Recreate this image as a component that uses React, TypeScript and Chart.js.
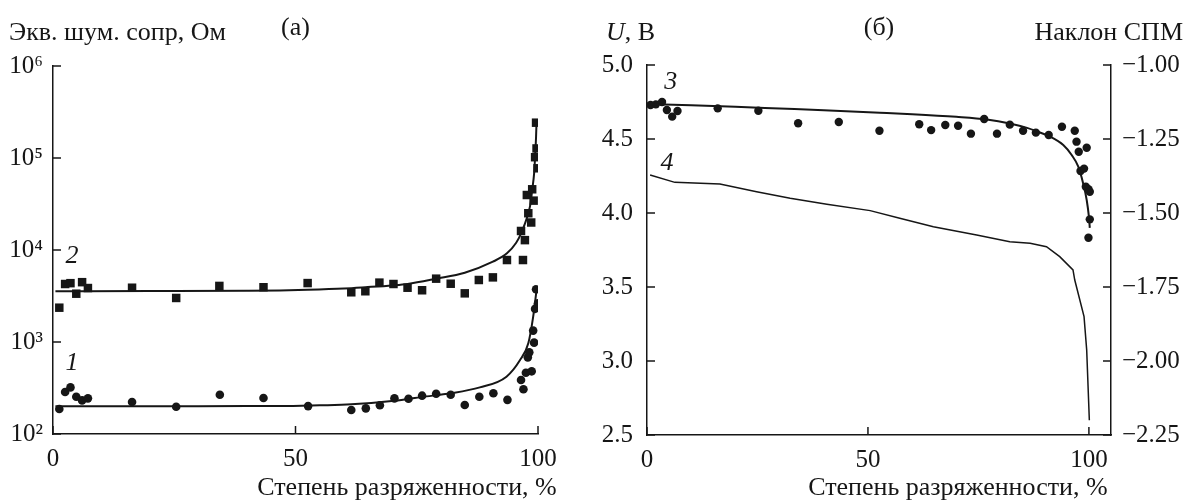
import { useEffect, useRef } from 'react';
import { Chart, registerables } from 'chart.js';

Chart.register(...registerables);

const INK = '#161616';
const SERIF = "'Liberation Serif', 'Times New Roman', serif";
const X_TITLE = 'Степень разряженности, %';

// ---------- Panel (а): equivalent noise resistance, Ohm (log) ----------
const xTicksA = [0, 50, 100];
const yTicksA = [1e2, 1e3, 1e4, 1e5, 1e6];

// series 2 (squares)
const pts2X = [1.3, 2.5, 3.6, 4.8, 6.0, 7.2, 16.3, 25.4, 34.3, 43.4, 52.5, 61.5, 64.4, 67.3, 70.2, 73.1, 76.1, 79.0, 82.0, 84.9, 87.8, 90.7, 93.6, 96.9, 96.5, 97.3, 98.0, 98.6, 97.7, 98.8, 99.1, 99.4, 99.9, 99.7, 99.6];
const pts2Y = [2360, 4270, 4360, 3350, 4470, 3860, 3890, 3010, 4070, 3940, 4370, 3470, 3560, 4420, 4270, 3890, 3650, 4880, 4300, 3380, 4720, 5040, 7780, 7780, 16100, 12800, 25100, 19900, 39600, 45700, 34400, 102000, 77300, 127000, 242000];
// fit curve 2
const fit2X = [0.5, 20, 40, 46.8, 52.5, 60, 64.4, 70, 73.1, 79, 84.9, 90.7, 93.6, 95.5, 96.5, 97.4, 98.0, 98.5, 98.8, 99.2, 99.4, 99.6, 99.7];
const fit2Y = [3560, 3580, 3610, 3640, 3700, 3820, 3940, 4120, 4270, 4870, 5660, 7460, 9200, 12000, 15100, 20000, 25100, 33000, 44900, 68000, 102000, 170000, 250000];

// series 1 (circles)
const pts1X = [1.3, 2.5, 3.6, 4.8, 6.0, 7.2, 16.3, 25.4, 34.4, 43.4, 52.6, 61.5, 64.5, 67.4, 70.4, 73.3, 76.1, 79.0, 82.0, 84.9, 87.9, 90.8, 93.7, 97.0, 96.5, 97.5, 98.7, 97.9, 98.2, 99.2, 99.0, 99.4, 100.0, 99.6];
const pts1Y = [187, 286, 321, 254, 232, 244, 223, 198, 267, 246, 201, 182, 190, 205, 244, 242, 261, 274, 267, 207, 254, 277, 235, 306, 386, 464, 480, 681, 772, 984, 1330, 2290, 2630, 3740];
// fit curve 1
const fit1X = [0.5, 20, 40, 46.8, 55, 61.5, 70.4, 76.1, 82, 88, 93.5, 96.3, 98.0, 99.0, 99.7];
const fit1Y = [200, 200, 201, 201, 205, 210, 230, 253, 277, 321, 420, 637, 968, 1880, 3670];

// ---------- Panel (б): voltage U, V and PSD slope ----------
const xTicksB = [0, 50, 100];
const yTicksB = [2.5, 3.0, 3.5, 4.0, 4.5, 5.0];
const y2TicksB = [-2.25, -2.0, -1.75, -1.5, -1.25, -1.0];

// series 3 (voltage, circles)
const pts3X = [0.8, 2.0, 3.4, 4.5, 5.7, 6.9, 16.0, 25.2, 34.2, 43.4, 52.6, 61.6, 64.3, 67.5, 70.4, 73.3, 76.3, 79.2, 82.1, 85.1, 88.0, 90.9, 93.9, 96.8, 97.2, 97.7, 99.5, 98.1, 98.9, 99.3, 99.9, 100.2, 100.2, 99.9];
const pts3Y = [4.73, 4.734, 4.75, 4.696, 4.651, 4.689, 4.707, 4.691, 4.606, 4.615, 4.556, 4.6, 4.56, 4.595, 4.59, 4.536, 4.635, 4.536, 4.597, 4.556, 4.543, 4.527, 4.583, 4.556, 4.482, 4.414, 4.441, 4.284, 4.3, 4.178, 4.16, 4.144, 3.957, 3.833];
// fit curve 3
const fit3X = [0.8, 10, 20, 30, 40, 52.7, 60, 70, 76.9, 82.1, 86, 88.2, 91.2, 94.2, 96.1, 97.6, 98.7, 99.5, 100.0, 100.2];
const fit3Y = [4.736, 4.728, 4.718, 4.706, 4.694, 4.678, 4.668, 4.65, 4.632, 4.605, 4.575, 4.552, 4.516, 4.459, 4.392, 4.313, 4.2, 4.088, 3.975, 3.9];

// curve 4 (PSD slope, right axis)
const line4X = [0.7, 6.3, 16.5, 24.8, 32.4, 40.7, 50.5, 57.2, 64.8, 74.6, 82.1, 86.7, 90.4, 93.4, 96.4, 96.8, 98.9, 99.5, 100.1];
const line4Y = [-1.3715, -1.3965, -1.402, -1.428, -1.4505, -1.4705, -1.492, -1.518, -1.5465, -1.5745, -1.597, -1.6025, -1.614, -1.6475, -1.6925, -1.7265, -1.85, -1.963, -2.2];

const SUP: Record<number, string> = { 2: '²', 3: '³', 4: '⁴', 5: '⁵', 6: '⁶' };

const zip = (xs: number[], ys: number[]) => xs.map((x, i) => ({ x, y: ys[i] }));

const TICK_FONT = { family: SERIF, size: 25 };
const TICK_FONT_CSS = `25px ${SERIF}`;
const TITLE_FONT = `26px ${SERIF}`;
const ITALIC_FONT = `italic 26px ${SERIF}`;

const inTicks = {
  id: 'inTicks',
  afterDraw(chart: any) {
    const ctx = chart.ctx;
    const a = chart.chartArea;
    ctx.save();
    ctx.strokeStyle = INK;
    ctx.lineWidth = 1.5;
    for (const s of Object.values(chart.scales) as any[]) {
      for (const t of s.ticks) {
        const p = s.getPixelForValue(t.value);
        ctx.beginPath();
        if (s.axis === 'x') {
          ctx.moveTo(p, a.bottom);
          ctx.lineTo(p, a.bottom - 8);
        } else if (s.position === 'left') {
          ctx.moveTo(a.left, p);
          ctx.lineTo(a.left + 8, p);
        } else {
          ctx.moveTo(a.right, p);
          ctx.lineTo(a.right - 8, p);
        }
        ctx.stroke();
      }
    }
    ctx.restore();
  },
};

type Part = { text: string; font: string };
type Item = {
  parts: Part[];
  x?: number;
  y: number;
  align: 'left' | 'center' | 'right';
  baseline?: CanvasTextBaseline;
  xScale?: string;
  yScale?: string;
  centerArea?: boolean;
  afterLabel?: string; // right edge of the x tick label with this value
};

const makeTexts = (items: Item[]) => ({
  id: 'texts',
  afterDraw(chart: any) {
    const ctx = chart.ctx;
    ctx.save();
    ctx.fillStyle = INK;
    for (const it of items) {
      let x = it.x ?? 0;
      let y = it.y;
      if (it.xScale) x = chart.scales[it.xScale].getPixelForValue(it.x);
      if (it.yScale) y = chart.scales[it.yScale].getPixelForValue(it.y);
      if (it.centerArea) x = (chart.chartArea.left + chart.chartArea.right) / 2;
      if (it.afterLabel) {
        ctx.font = TICK_FONT_CSS;
        x = chart.scales.x.getPixelForValue(Number(it.afterLabel)) + ctx.measureText(it.afterLabel).width / 2;
      }
      const widths = it.parts.map((p) => {
        ctx.font = p.font;
        return ctx.measureText(p.text).width;
      });
      const total = widths.reduce((s, w) => s + w, 0);
      let cx = it.align === 'left' ? x : it.align === 'center' ? x - total / 2 : x - total;
      ctx.textAlign = 'left';
      ctx.textBaseline = it.baseline ?? 'alphabetic';
      it.parts.forEach((p, i) => {
        ctx.font = p.font;
        ctx.fillText(p.text, cx, y);
        cx += widths[i];
      });
    }
    ctx.restore();
  },
});

const axisCommon = {
  grid: { display: false, drawTicks: false },
  border: { display: true, color: INK, width: 1.5 },
};

function useChart(ref: React.RefObject<HTMLCanvasElement | null>, build: (c: HTMLCanvasElement) => Chart) {
  useEffect(() => {
    if (!ref.current) return;
    const ch = build(ref.current);
    return () => ch.destroy();
  }, []);
}

export default function App() {
  const leftRef = useRef<HTMLCanvasElement>(null);
  const rightRef = useRef<HTMLCanvasElement>(null);

  useChart(leftRef, (c) =>
    new Chart(c, {
      type: 'scatter',
      data: {
        datasets: [
          { data: zip(fit2X, fit2Y), showLine: true, borderColor: INK, borderWidth: 2, pointRadius: 0, cubicInterpolationMode: 'monotone', fill: false },
          { data: zip(fit1X, fit1Y), showLine: true, borderColor: INK, borderWidth: 2, pointRadius: 0, cubicInterpolationMode: 'monotone', fill: false },
          { data: zip(pts2X, pts2Y), showLine: false, pointStyle: 'rect', pointRadius: 6, backgroundColor: INK, borderColor: INK, borderWidth: 0 },
          { data: zip(pts1X, pts1Y), showLine: false, pointStyle: 'circle', pointRadius: 4.3, backgroundColor: INK, borderColor: INK, borderWidth: 0 },
        ],
      } as any,
      options: {
        animation: false,
        responsive: false,
        events: [],
        layout: { padding: { top: 66, right: 55, bottom: 0, left: 0 } },
        plugins: { legend: { display: false }, tooltip: { enabled: false } },
        scales: {
          x: {
            type: 'linear',
            position: 'bottom',
            min: 0,
            max: 100,
            afterBuildTicks: (s: any) => { s.ticks = xTicksA.map((v) => ({ value: v })); },
            afterFit: (s: any) => { s.height = 67; },
            ...axisCommon,
            ticks: { color: INK, font: TICK_FONT, padding: 10, maxRotation: 0, autoSkip: false, callback: (v: any) => String(v) },
            title: { display: false },
          },
          y: {
            type: 'logarithmic',
            position: 'left',
            min: 100,
            max: 1e6,
            afterBuildTicks: (s: any) => { s.ticks = yTicksA.map((v) => ({ value: v })); },
            afterFit: (s: any) => { s.width = 53; },
            ...axisCommon,
            ticks: { color: INK, font: TICK_FONT, padding: 10, autoSkip: false, callback: (v: any) => '10' + SUP[Math.round(Math.log10(Number(v)))] },
          },
        },
      } as any,
      plugins: [
        inTicks,
        makeTexts([
          { parts: [{ text: 'Экв. шум. сопр, Ом', font: TITLE_FONT }], x: 9, y: 40, align: 'left' },
          { parts: [{ text: '(а)', font: TITLE_FONT }], y: 35, align: 'center', centerArea: true },
          { parts: [{ text: X_TITLE, font: TITLE_FONT }], y: 495, align: 'right', afterLabel: '100' },
          { parts: [{ text: '2', font: ITALIC_FONT }], x: 3.9, y: 8600, xScale: 'x', yScale: 'y', align: 'center', baseline: 'middle' },
          { parts: [{ text: '1', font: ITALIC_FONT }], x: 3.9, y: 590, xScale: 'x', yScale: 'y', align: 'center', baseline: 'middle' },
        ]),
      ],
    })
  );

  useChart(rightRef, (c) =>
    new Chart(c, {
      type: 'scatter',
      data: {
        datasets: [
          { data: zip(fit3X, fit3Y), yAxisID: 'y', showLine: true, borderColor: INK, borderWidth: 2, pointRadius: 0, cubicInterpolationMode: 'monotone', fill: false },
          { data: zip(line4X, line4Y), yAxisID: 'y2', showLine: true, borderColor: INK, borderWidth: 1.5, pointRadius: 0, tension: 0, fill: false },
          { data: zip(pts3X, pts3Y), yAxisID: 'y', showLine: false, pointStyle: 'circle', pointRadius: 4.2, backgroundColor: INK, borderColor: INK, borderWidth: 0 },
        ],
      } as any,
      options: {
        animation: false,
        responsive: false,
        events: [],
        layout: { padding: { top: 65, right: 0, bottom: 0, left: 0 } },
        plugins: { legend: { display: false }, tooltip: { enabled: false } },
        scales: {
          x: {
            type: 'linear',
            position: 'bottom',
            min: 0,
            max: 105,
            afterBuildTicks: (s: any) => { s.ticks = xTicksB.map((v) => ({ value: v })); },
            afterFit: (s: any) => { s.height = 66; },
            ...axisCommon,
            ticks: { color: INK, font: TICK_FONT, padding: 10, maxRotation: 0, autoSkip: false, callback: (v: any) => String(v) },
            title: { display: false },
          },
          y: {
            type: 'linear',
            position: 'left',
            min: 2.5,
            max: 5.0,
            afterBuildTicks: (s: any) => { s.ticks = yTicksB.map((v) => ({ value: v })); },
            afterFit: (s: any) => { s.width = 54; },
            ...axisCommon,
            ticks: { color: INK, font: TICK_FONT, padding: 14, autoSkip: false, callback: (v: any) => Number(v).toFixed(1) },
          },
          y2: {
            type: 'linear',
            position: 'right',
            min: -2.25,
            max: -1.0,
            afterBuildTicks: (s: any) => { s.ticks = y2TicksB.map((v) => ({ value: v })); },
            afterFit: (s: any) => { s.width = 75; },
            ...axisCommon,
            ticks: { color: INK, font: TICK_FONT, padding: 11, autoSkip: false, callback: (v: any) => (Number(v) < 0 ? '−' : '') + Math.abs(Number(v)).toFixed(2) },
          },
        },
      } as any,
      plugins: [
        inTicks,
        makeTexts([
          { parts: [{ text: 'U', font: `italic 26px ${SERIF}` }, { text: ', В', font: TITLE_FONT }], x: 13, y: 40, align: 'left' },
          { parts: [{ text: '(б)', font: TITLE_FONT }], y: 35, align: 'center', centerArea: true },
          { parts: [{ text: 'Наклон СПМ', font: TITLE_FONT }], x: 590, y: 40, align: 'right' },
          { parts: [{ text: X_TITLE, font: TITLE_FONT }], y: 495, align: 'right', afterLabel: '100' },
          { parts: [{ text: '3', font: ITALIC_FONT }], x: 5.4, y: 4.885, xScale: 'x', yScale: 'y', align: 'center', baseline: 'middle' },
          { parts: [{ text: '4', font: ITALIC_FONT }], x: 4.5, y: 4.34, xScale: 'x', yScale: 'y', align: 'center', baseline: 'middle' },
        ]),
      ],
    })
  );

  return (
    <div style={{ position: 'fixed', left: 0, top: 0, width: 1186, height: 501, background: '#fff' }}>
      <canvas ref={leftRef} width={593} height={501} style={{ position: 'absolute', left: 0, top: 0, width: 593, height: 501 }} />
      <canvas ref={rightRef} width={593} height={501} style={{ position: 'absolute', left: 593, top: 0, width: 593, height: 501 }} />
    </div>
  );
}
